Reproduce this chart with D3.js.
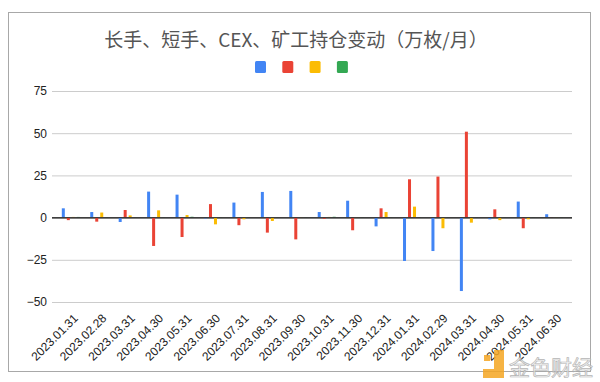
<!DOCTYPE html>
<html>
<head>
<meta charset="utf-8">
<script src="https://cdn.jsdelivr.net/npm/d3@7"></script>
<style>
body{margin:0;background:#fff;}
svg{display:block;font-family:"Liberation Sans",Arial,sans-serif;}
</style>
</head>
<body>
<svg id="chart" width="600" height="382"></svg>
<script>
// months on the x axis
const months = ["2023.01.31","2023.02.28","2023.03.31","2023.04.30","2023.05.31","2023.06.30",
	"2023.07.31","2023.08.31","2023.09.30","2023.10.31","2023.11.30","2023.12.31",
	"2024.01.31","2024.02.29","2024.03.31","2024.04.30","2024.05.31","2024.06.30"];

// series values (万枚/月)
const longHand  = [5.5, 3.3, -2.6, 15.4, 13.6, -0.5, 8.9, 15.2, 15.8, 3.3, 10, -5.2, -25.7, -19.8, -43.5, -1, 9.5, 2];
const shortHand = [-1.5, -2.4, 4.5, -16.8, -11.5, 8, -4.5, -8.9, -12.9, -0.7, -7.5, 5.5, 22.7, 24.3, 50.9, 4.9, -6.3, 0.3];
const cex       = [0.4, 3, 1.3, 4.3, 1.5, -4, -1, -2, 0.3, 0.4, 0.3, 3.3, 6.5, -6.3, -3, -1.5, -1, 0.3];
const miners    = [0.4, 0.2, 0.2, 0.2, 0.5, 0.2, 0.2, 0.2, 0.2, 0.5, 0.2, 0.2, 0.2, 0.2, 0.2, 0.2, 0.2, 0.2];

const yTicks = [-50, -25, 0, 25, 50, 75];
const seriesNames = ["长手", "短手", "CEX", "矿工"];
const colors = ["#4285f4", "#ea4335", "#fbbc04", "#34a853"];

const allSeries = [longHand, shortHand, cex, miners];

const svg = d3.select("#chart");

// outer frame
svg.append("rect")
	.attr("x", 8.5).attr("y", 12.5)
	.attr("width", 582).attr("height", 359)
	.attr("fill", "#fff")
	.attr("stroke", "#a8a8a8");

svg.append("text")
	.attr("x", 296).attr("y", 47)
	.attr("text-anchor", "middle")
	.style("font-family", "'Noto Sans CJK SC', sans-serif")
	.style("font-size", "19px")
	.attr("fill", "#555")
	.text("长手、短手、CEX、矿工持仓变动（万枚/月）");

// legend: coloured squares only
const legend = svg.append("g");
seriesNames.forEach((s, i) => {
	legend.append("rect")
		.attr("x", 255 + i * 27.3).attr("y", 61)
		.attr("width", 11).attr("height", 12)
		.attr("rx", 1.5)
		.attr("fill", colors[i]);
});

const left = 52, right = 572;
const x = d3.scaleBand().domain(months).range([56.6, 568.4]);
const xSub = d3.scaleBand().domain(seriesNames).range([-10, 10]).paddingInner(0.4).paddingOuter(0.2);
const y = d3.scaleLinear().domain([-50, 75]).range([302, 91]);

// gridlines + y labels
const yAxis = svg.append("g")
	.attr("transform", "translate(" + left + ",0)")
	.call(d3.axisLeft(y).tickValues(yTicks).tickSize(-(right - left)).tickPadding(5));
yAxis.select(".domain").remove();
yAxis.selectAll(".tick line").attr("stroke", d => d === 0 ? "#333" : "#cccccc");
yAxis.selectAll(".tick text").style("font-size", "12px").attr("fill", "#222");

// bars
const bars = svg.append("g");
allSeries.forEach((vals, si) => {
	bars.selectAll(null)
		.data(vals.map((v, i) => ({m: months[i], v: v})))
		.enter().append("rect")
		.attr("x", d => x(d.m) + x.bandwidth() / 2 + xSub(seriesNames[si]))
		.attr("y", d => y(Math.max(0, d.v)))
		.attr("width", xSub.bandwidth())
		.attr("height", d => Math.abs(y(d.v) - y(0)))
		.attr("fill", colors[si]);
});

// redraw zero line on top of bars
svg.append("line")
	.attr("x1", left).attr("x2", right)
	.attr("y1", y(0)).attr("y2", y(0))
	.attr("stroke", "#333").attr("stroke-width", 1);

// x labels, rotated
const xAxis = svg.append("g")
	.call(d3.axisBottom(x).tickSize(0));
xAxis.select(".domain").remove();
xAxis.selectAll(".tick").attr("transform", null);
xAxis.selectAll(".tick text")
	.attr("x", 0).attr("y", 0).attr("dy", "0.35em")
	.attr("text-anchor", "end")
	.attr("transform", d => "translate(" + (x(d) + x.bandwidth() / 2 + 5) + ",316) rotate(-45)")
	.style("font-size", "12px")
	.attr("fill", "#222");

// watermark
const wm = svg.append("g").attr("opacity", 0.85);
wm.append("path")
	.attr("d", "M494,350 h10 v28 h-21 v-9 h11 z")
	.attr("fill", "#f5a623");
wm.append("rect")
	.attr("x", 484).attr("y", 355).attr("width", 6).attr("height", 6)
	.attr("fill", "#f5a623");
wm.append("text")
	.attr("x", 509).attr("y", 375)
	.style("font-family", "'Noto Sans CJK SC', sans-serif")
	.style("font-size", "21px")
	.attr("fill", "#f2f2f2")
	.attr("stroke", "#a9a9a9")
	.attr("stroke-width", 0.7)
	.text("金色财经");
</script>
</body>
</html>
